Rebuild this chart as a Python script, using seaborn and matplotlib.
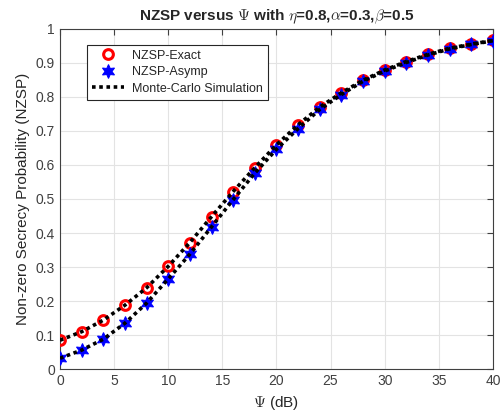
import seaborn as sns
import matplotlib.pyplot as plt
import pandas as pd

# datos
psi_db = [0, 2, 4, 6, 8, 10, 12, 14, 16, 18, 20, 22, 24, 26, 28, 30, 32, 34, 36, 38, 40]
nzsp_exact = [0.085, 0.110, 0.144, 0.188, 0.239, 0.302, 0.372, 0.448, 0.522, 0.592, 0.659,
              0.718, 0.770, 0.812, 0.849, 0.879, 0.904, 0.925, 0.943, 0.955, 0.966]
nzsp_asymp = [0.032, 0.056, 0.088, 0.135, 0.194, 0.265, 0.338, 0.418, 0.498, 0.576, 0.646,
              0.707, 0.763, 0.807, 0.846, 0.876, 0.901, 0.923, 0.941, 0.954, 0.965]
mc_exact = nzsp_exact
mc_asymp = nzsp_asymp

df = pd.DataFrame({"psi": psi_db, "exact": nzsp_exact, "asymp": nzsp_asymp,
                   "mc1": mc_exact, "mc2": mc_asymp})

sns.set_style("white")
plt.rcParams["font.family"] = ["Liberation Sans", "DejaVu Sans"]
plt.rcParams["mathtext.fontset"] = "cm"

fig = plt.figure(figsize=(5.04, 4.12), dpi=100)
ax = fig.add_axes([0.119, 0.104, 0.859, 0.826])

sns.lineplot(data=df, x="psi", y="exact", ax=ax, linestyle="none", marker="o",
             markersize=7, markerfacecolor="none", markeredgecolor="red",
             markeredgewidth=2.2, color="red", label="NZSP-Exact", zorder=3)
sns.lineplot(data=df, x="psi", y="asymp", ax=ax, linestyle="none", marker=(6, 1, 0),
             markersize=10, markerfacecolor="blue", markeredgecolor="blue",
             color="blue", label="NZSP-Asymp", zorder=3)
sns.lineplot(data=df, x="psi", y="mc1", ax=ax, color="black", linestyle=(0, (1, 1)),
             linewidth=2.6, label="Monte-Carlo Simulation", zorder=4)
sns.lineplot(data=df, x="psi", y="mc2", ax=ax, color="black", linestyle=(0, (1, 1)),
             linewidth=2.6, zorder=4, legend=False)

ax.set_xlim(0, 40)
ax.set_ylim(0, 1)
ax.set_xticks(range(0, 41, 5))
ax.set_yticks([i / 10 for i in range(11)])
ax.set_yticklabels(["0", "0.1", "0.2", "0.3", "0.4", "0.5", "0.6", "0.7", "0.8", "0.9", "1"])
ax.grid(True, color="#e3e3e3", linewidth=0.8)
ax.tick_params(direction="in", length=4, labelsize=10, colors="#404040",
               top=True, right=True)
for s in ax.spines.values():
    s.set_color("#404040")
    s.set_linewidth(0.8)

ax.set_xlabel(r"$\Psi$ (dB)", fontsize=11, color="#262626")
ax.set_ylabel("Non-zero Secrecy Probability (NZSP)", fontsize=11, color="#262626")
ax.set_title(r"NZSP versus $\Psi$ with $\eta$=0.8,$\alpha$=0.3,$\beta$=0.5",
             fontsize=11, fontweight="bold")

leg = ax.legend(loc="upper left", bbox_to_anchor=(0.062, 0.953), borderaxespad=0,
                fontsize=9, frameon=True, fancybox=False, edgecolor="#262626",
                framealpha=1, handlelength=2.6, handletextpad=0.6, borderpad=0.4,
                labelspacing=0.35)
leg.get_frame().set_linewidth(0.8)

plt.savefig("out.png", dpi=100)
